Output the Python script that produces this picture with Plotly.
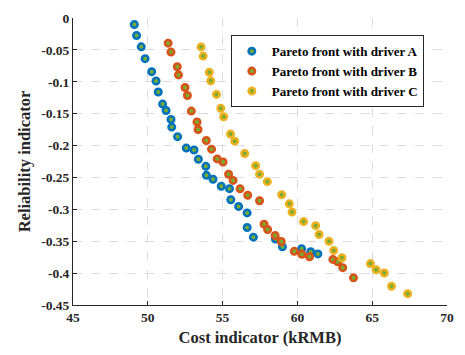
import plotly.graph_objects as go

# Pareto fronts: cost indicator (kRMB) vs reliability indicator
cost_a = [49.10, 49.25, 49.56, 49.82, 50.26, 50.55, 50.70, 50.99, 51.22, 51.55,
          51.60, 51.99, 52.57, 53.09, 53.38, 53.88, 53.92, 54.36, 54.91, 55.46,
          55.55, 56.07, 56.64, 56.64, 57.06, 58.53, 59.00, 60.28, 60.89, 61.37]
rel_a = [-0.0102, -0.0274, -0.0452, -0.0638, -0.0841, -0.0988, -0.116, -0.135, -0.145, -0.159,
         -0.171, -0.186, -0.204, -0.207, -0.2215, -0.2326, -0.2467, -0.2528, -0.2638, -0.2676,
         -0.285, -0.2954, -0.3056, -0.3284, -0.3436, -0.3466, -0.3588, -0.3618, -0.3664, -0.3699]

cost_b = [51.36, 51.55, 51.97, 52.05, 52.49, 52.65, 52.91, 53.29, 53.36, 53.91,
          54.26, 54.64, 55.03, 55.40, 55.70, 56.17, 56.68, 57.47, 57.77, 58.01,
          58.51, 58.92, 59.79, 60.30, 60.81, 62.37, 62.70, 63.03, 63.75]
rel_b = [-0.0395, -0.0535, -0.0765, -0.0892, -0.109, -0.1216, -0.146, -0.163, -0.1748, -0.192,
         -0.2057, -0.2209, -0.2257, -0.245, -0.2546, -0.2679, -0.2779, -0.2866, -0.3233, -0.3317,
         -0.341, -0.3504, -0.3659, -0.3705, -0.3744, -0.3785, -0.3823, -0.3915, -0.4074]

cost_c = [53.56, 53.70, 54.11, 54.21, 54.59, 54.88, 55.07, 55.53, 55.81, 56.48,
          57.21, 57.47, 57.99, 58.95, 59.46, 59.64, 60.41, 61.22, 61.45, 62.11,
          62.43, 62.98, 64.88, 65.26, 65.81, 66.29, 67.37]
rel_c = [-0.0453, -0.0597, -0.0851, -0.0985, -0.1198, -0.1417, -0.1548, -0.182, -0.1931, -0.2124,
         -0.2315, -0.2448, -0.2566, -0.2771, -0.2914, -0.3043, -0.3192, -0.3256, -0.3395, -0.35,
         -0.3644, -0.376, -0.3851, -0.3948, -0.3998, -0.4206, -0.4322]

series_names = ["Pareto front with driver A", "Pareto front with driver B", "Pareto front with driver C"]
edge_colors = ["#0072BD", "#D95319", "#EDB120"]
fill_color = "#77AC30"

x_ticks = [45, 50, 55, 60, 65, 70]
x_tick_text = ["45", "50", "55", "60", "65", "70"]
y_ticks = [0, -0.05, -0.1, -0.15, -0.2, -0.25, -0.3, -0.35, -0.4, -0.45]
y_tick_text = ["0", "-0.05", "-0.1", "-0.15", "-0.2", "-0.25", "-0.3", "-0.35", "-0.4", "-0.45"]

font_family = "Liberation Serif, Times New Roman, serif"

fig = go.Figure()
for xs, ys, name, col in zip([cost_a, cost_b, cost_c], [rel_a, rel_b, rel_c], series_names, edge_colors):
    fig.add_trace(go.Scatter(
        x=xs, y=ys, mode="markers", name=name,
        marker=dict(size=6.5, color=fill_color, line=dict(color=col, width=2.5)),
    ))

axis_common = dict(
    showline=True, linecolor="#262626", linewidth=1,
    ticks="inside", ticklen=4, tickcolor="#262626",
    showgrid=True, gridcolor="#dcdcdc", griddash="dash", gridwidth=1,
    zeroline=False, mirror=False,
    tickfont=dict(family=font_family, size=13.5, color="#262626", weight="bold"),
)

fig.update_xaxes(range=[45, 70], tickvals=x_ticks, ticktext=x_tick_text,
                 title=dict(text="<b>Cost indicator (kRMB)</b>", standoff=7,
                            font=dict(family=font_family, size=16.5, color="#262626")),
                 **axis_common)
fig.update_yaxes(range=[-0.45, 0], tickvals=y_ticks, ticktext=y_tick_text,
                 title=dict(text="<b>Reliability indicator</b>", standoff=6,
                            font=dict(family=font_family, size=16.5, color="#262626")),
                 **axis_common)

fig.update_layout(
    width=465, height=355,
    margin=dict(l=73, r=12, t=11, b=48),
    paper_bgcolor="white", plot_bgcolor="white",
    showlegend=True,
    legend=dict(
        x=0.422, y=0.94, xanchor="left", yanchor="top",
        bgcolor="white", bordercolor="#262626", borderwidth=1,
        font=dict(family=font_family, size=13, color="#000000", weight="bold"),
        tracegroupgap=0, itemsizing="trace",
    ),
)

fig.write_html("out.html")
